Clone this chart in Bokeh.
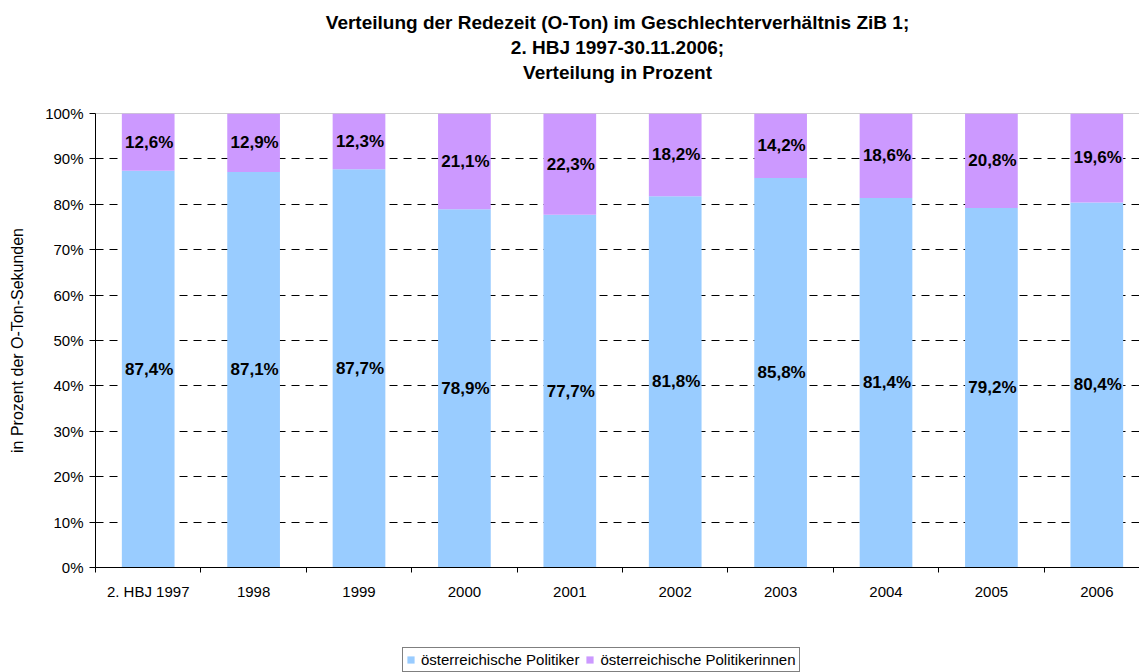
from bokeh.plotting import figure
from bokeh.layouts import column
from bokeh.models import (ColumnDataSource, Range1d, FixedTicker, Span, Title,
                          Legend, LegendItem, LinearAxis)
from bokeh.embed import file_html
from bokeh.resources import INLINE
from bokeh.core.properties import value

# ---------------- data ----------------
categories = ["2. HBJ 1997", "1998", "1999", "2000", "2001",
              "2002", "2003", "2004", "2005", "2006"]
politiker = [87.4, 87.1, 87.7, 78.9, 77.7, 81.8, 85.8, 81.4, 79.2, 80.4]
politikerinnen = [12.6, 12.9, 12.3, 21.1, 22.3, 18.2, 14.2, 18.6, 20.8, 19.6]
series_names = ["österreichische Politiker", "österreichische Politikerinnen"]
series_colors = ["#99CCFF", "#CC99FF"]
y_ticks = [0, 10, 20, 30, 40, 50, 60, 70, 80, 90, 100]
title_lines = ["Verteilung der Redezeit (O-Ton) im Geschlechterverhältnis ZiB 1;",
               "2. HBJ 1997-30.11.2006;",
               "Verteilung in Prozent"]
y_label = "in Prozent der O-Ton-Sekunden"

FONT = "Liberation Sans"


def fmt(v):
    return f"{v:.1f}".replace(".", ",") + "%"


xs = list(range(len(categories)))
src = ColumnDataSource(dict(
    x=xs,
    m=politiker,
    w=politikerinnen,
    mid_m=[v / 2 for v in politiker],
    mid_w=[a + b / 2 for a, b in zip(politiker, politikerinnen)],
    lab_m=[fmt(v) for v in politiker],
    lab_w=[fmt(v) for v in politikerinnen],
))

p = figure(width=1139, height=640,
           x_range=Range1d(-0.5, 9.405), y_range=Range1d(0, 100),
           output_backend="svg", toolbar_location=None,
           min_border_left=95, min_border_right=0,
           min_border_top=113, min_border_bottom=73)
p.outline_line_color = None
p.background_fill_color = "white"
p.border_fill_color = "white"

xa = p.below[0]   # the real category axis
ya = p.left[0]


def style_title(t, standoff):
    t.align = "center"
    t.text_font = FONT
    t.text_font_style = "bold"
    t.text_font_size = "19px"
    t.text_color = "#000000"
    t.standoff = standoff


# invisible spacer between plot and title block (nearest to the plot):
# one hidden tick whose length reserves the gap
top_spacer = LinearAxis(ticker=FixedTicker(ticks=[4.5]), major_tick_out=30,
                        major_tick_in=0, axis_line_color=None,
                        major_tick_line_color=None, minor_tick_line_color=None,
                        major_label_standoff=0, major_label_overrides={4.5: ""},
                        major_label_text_font_size="1px")
p.add_layout(top_spacer, "above")

# title lines: p.title is outermost; later-added titles sit further out
p.title.text = title_lines[0]
style_title(p.title, 2)
t3 = Title(text=title_lines[2])
style_title(t3, 2)
p.add_layout(t3, "above")
t2 = Title(text=title_lines[1])
style_title(t2, 2)
p.add_layout(t2, "above")

# grid
p.xgrid.visible = False
p.ygrid.ticker = FixedTicker(ticks=y_ticks[1:-1])
p.ygrid.grid_line_color = "#000000"
p.ygrid.grid_line_dash = "8 6"
p.ygrid.grid_line_width = 1
p.add_layout(Span(location=y_ticks[-1], dimension="width", line_color="#999999",
                  line_width=1, level="underlay"))

# bars
p.vbar_stack(["m", "w"], x="x", width=0.5, color=series_colors,
             line_color=None, source=src)

# data labels
for ycol, tcol in (("mid_m", "lab_m"), ("mid_w", "lab_w")):
    p.text(x="x", y=ycol, text=tcol, source=src, x_offset=1,
           text_font=value(FONT), text_font_style="bold",
           text_font_size="17px", text_align="center",
           text_baseline="middle", text_color="#000000")

# x axis
xa.ticker = FixedTicker(ticks=xs, minor_ticks=[i - 0.5 for i in xs])
xa.major_label_overrides = {i: c for i, c in enumerate(categories)}
xa.major_tick_out = 0
xa.major_tick_in = 0
xa.minor_tick_out = 5
xa.minor_tick_in = 0
xa.minor_tick_line_color = "#000000"
xa.axis_line_color = "#000000"
xa.major_label_text_font = FONT
xa.major_label_text_font_size = "15px"
xa.major_label_text_color = "#000000"
xa.major_label_standoff = 10

# y axis
ya.ticker = FixedTicker(ticks=y_ticks)
ya.major_label_overrides = {t: f"{t}%" for t in y_ticks}
ya.major_tick_out = 6
ya.major_tick_in = 0
ya.minor_tick_out = 0
ya.minor_tick_in = 0
ya.major_tick_line_color = "#000000"
ya.axis_line_color = "#000000"
ya.major_label_text_font = FONT
ya.major_label_text_font_size = "15px"
ya.major_label_text_color = "#000000"
ya.major_label_standoff = 6
ya.axis_label = y_label
ya.axis_label_text_font = FONT
ya.axis_label_text_font_size = "16px"
ya.axis_label_text_font_style = "normal"
ya.axis_label_text_color = "#000000"
ya.axis_label_standoff = 16

# ---------------- legend strip below the chart ----------------
p2 = figure(width=1139, height=32, x_range=Range1d(-0.5, 9.405),
            y_range=Range1d(0, 100),
            output_backend="svg", toolbar_location=None,
            min_border_left=0, min_border_right=0,
            min_border_top=0, min_border_bottom=0)
p2.axis.visible = False
p2.grid.visible = False
p2.outline_line_color = None
p2.background_fill_color = "white"
p2.border_fill_color = "white"

# the same stacked series (hidden) feed the legend swatches
legend_renderers = p2.vbar_stack(["m", "w"], x="x", width=0.5, color=series_colors,
                                 line_color=None, source=src)
for r in legend_renderers:
    r.visible = False
items = [LegendItem(label=name, renderers=[r])
         for name, r in zip(series_names, legend_renderers)]

lg = Legend(items=items, location=(307, 0), orientation="horizontal",
            margin=0, padding=3, spacing=6, glyph_width=9, glyph_height=9,
            label_standoff=6, label_height=16,
            label_text_font=FONT, label_text_font_size="15px",
            label_text_color="#000000", border_line_color="#000000",
            border_line_width=1, background_fill_color="white",
            background_fill_alpha=1.0, inactive_fill_alpha=0.0)
p2.add_layout(lg)

layout = column(p, p2, spacing=0)
open("out.html", "w").write(file_html(layout, INLINE))
